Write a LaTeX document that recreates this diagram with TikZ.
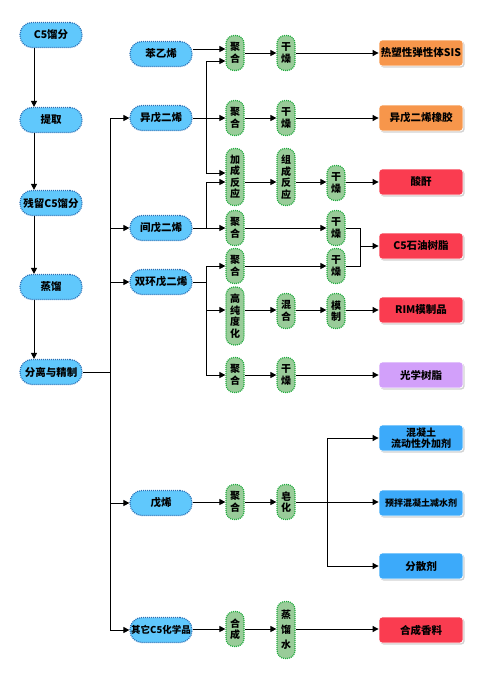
\documentclass[tikz,border=0pt]{standalone}
\usepackage{fontspec}
\setmainfont{Noto Sans CJK SC}
\usetikzlibrary{arrows.meta,shadows,calc}
\definecolor{bfill}{RGB}{96,200,252}
\definecolor{bdraw}{RGB}{40,110,180}
\definecolor{gfill}{RGB}{153,204,153}
\definecolor{gdraw}{RGB}{30,170,60}
\definecolor{oorange}{RGB}{247,150,75}
\definecolor{ored}{RGB}{250,60,80}
\definecolor{opurple}{RGB}{210,160,250}
\definecolor{oblue}{RGB}{60,170,250}
\begin{document}
\begin{tikzpicture}[x=1pt,y=-1pt,
 every node/.style={font=\fontsize{10.5}{12}\selectfont\bfseries},
 bnode/.style={draw=bdraw,dash pattern=on 1pt off 1pt,line width=1.2pt,fill=bfill,rounded corners=12pt,minimum width=62pt,minimum height=25pt,inner sep=1pt},
 gnode/.style={draw=gdraw,dash pattern=on 1pt off 1pt,line width=1.2pt,fill=gfill,rounded corners=8pt,minimum width=18pt,inner sep=0pt,align=center,font=\fontsize{10}{11.5}\selectfont\bfseries},
 gtwo/.style={gnode,minimum height=35pt},
 gfour/.style={gnode,minimum height=57pt},
 onode/.style={draw=white,line width=0.8pt,rounded corners=3pt,minimum width=84pt,minimum height=26pt,inner sep=1pt,align=center,drop shadow={shadow xshift=1.5pt,shadow yshift=-1.5pt,opacity=0.35}},
 arr/.style={-{Triangle[length=6pt,width=6pt]},line width=0.9pt},
 ln/.style={line width=0.9pt}]
\path[use as bounding box] (0,0) rectangle (483,683);
% left column
\node[bnode] (c5) at (51,35) {C5馏分};
\node[bnode] (tiqu) at (51,120) {提取};
\node[bnode] (canliu) at (51,203) {残留C5馏分};
\node[bnode] (zhengliu) at (51,287) {蒸馏};
\node[bnode] (fenli) at (51,372) {分离与精制};
% second column
\node[bnode] (benz) at (161,54) {苯乙烯};
\node[bnode] (iso) at (161,118) {异戊二烯};
\node[bnode] (pip) at (161,228) {间戊二烯};
\node[bnode] (dcpd) at (161,282) {双环戊二烯};
\node[bnode] (pent) at (161,503) {戊烯};
\node[bnode,font=\fontsize{9.5}{11}\selectfont\bfseries] (other) at (161,630) {其它C5化学品};
% green C
\node[gtwo] (p1) at (235,53) {聚\\合};
\node[gtwo] (p2) at (235,118) {聚\\合};
\node[gfour] (add) at (235,177) {加\\成\\反\\应};
\node[gtwo] (p4) at (235,228) {聚\\合};
\node[gtwo] (p5) at (235,266) {聚\\合};
\node[gfour,minimum height=58pt] (hp) at (235,316) {高\\纯\\度\\化};
\node[gtwo] (p7) at (235,375) {聚\\合};
\node[gtwo] (p8) at (235,502) {聚\\合};
\node[gtwo] (hc) at (235,629) {合\\成};
% green D
\node[gtwo] (d1) at (286,53) {干\\燥};
\node[gtwo] (d2) at (286,118) {干\\燥};
\node[gfour] (zc) at (286,177) {组\\成\\反\\应};
\node[gtwo] (mix) at (286,311) {混\\合};
\node[gtwo] (d7) at (286,375) {干\\燥};
\node[gtwo] (zh) at (286,502) {皂\\化};
\node[gnode,minimum height=57pt,font=\fontsize{10}{15}\selectfont\bfseries] (zlw) at (286,630) {蒸\\馏\\水};
% green E
\node[gtwo] (d3) at (336,183) {干\\燥};
\node[gtwo] (d4) at (336,228) {干\\燥};
\node[gtwo] (d5) at (336,266) {干\\燥};
\node[gtwo] (mz) at (336,311) {模\\制};
% outputs
\node[onode,fill=oorange] (o1) at (421,53) {热塑性弹性体SIS};
\node[onode,fill=oorange] (o2) at (421,118) {异戊二烯橡胶};
\node[onode,fill=ored] (o3) at (421,182) {酸酐};
\node[onode,fill=ored] (o4) at (421,246) {C5石油树脂};
\node[onode,fill=ored] (o5) at (421,310) {RIM模制品};
\node[onode,fill=opurple] (o6) at (421,375) {光学树脂};
\node[onode,fill=oblue,font=\fontsize{10}{11}\selectfont\bfseries] (o7) at (421,438) {混凝土\\流动性外加剂};
\node[onode,fill=oblue,font=\fontsize{9}{11}\selectfont\bfseries] (o8) at (421,503) {预拌混凝土减水剂};
\node[onode,fill=oblue] (o9) at (421,566) {分散剂};
\node[onode,fill=ored] (o10) at (421,630) {合成香料};
% coordinates
\coordinate (ax) at (34,0);
\coordinate (tr) at (110,0);
\coordinate (ja) at (206,0);
\coordinate (jb) at (360,0);
\coordinate (jc) at (327,0);
% left arrows
\draw[arr] (c5.south -| ax) -- (tiqu.north -| ax);
\draw[arr] (tiqu.south -| ax) -- (canliu.north -| ax);
\draw[arr] (canliu.south -| ax) -- (zhengliu.north -| ax);
\draw[arr] (zhengliu.south -| ax) -- (fenli.north -| ax);
% trunk
\draw[ln] (fenli.east) -- (fenli.east -| tr);
\draw[ln] (iso.west -| tr) -- (other.west -| tr);
\foreach \n in {iso,pip,dcpd,pent,other} \draw[arr] (\n.west -| tr) -- (\n.west);
% styrene / isoprene
\draw[arr] (benz.east |- 0,49) -- (p1.west |- 0,49);
\draw[arr] (iso.east) -- (p2.west);
\draw[arr] (ja |- iso.east) |- (p1.west |- 0,61);
\draw[arr] (ja |- iso.east) |- (add.west |- 0,173);
\draw[arr] (p1.east) -- (d1.west);
\draw[arr] (d1.east) -- (o1.west);
\draw[arr] (p2.east) -- (d2.west);
\draw[arr] (d2.east) -- (o2.west);
% addition row
\draw[arr] (add.east |- 0,182) -- (zc.west |- 0,182);
\draw[arr] (zc.east |- 0,182) -- (d3.west |- 0,182);
\draw[arr] (d3.east |- 0,182) -- (o3.west);
% piperylene
\draw[arr] (pip.east) -- (p4.west);
\draw[arr] (ja |- pip.east) |- (add.west |- 0,182);
\draw[arr] (p4.east) -- (d4.west);
% dcpd
\draw[ln] (dcpd.east) -- (ja |- dcpd.east);
\draw[arr] (ja |- dcpd.east) |- (p5.west);
\draw[arr] (ja |- dcpd.east) |- (hp.west |- 0,310);
\draw[arr] (ja |- dcpd.east) |- (p7.west);
\draw[arr] (p5.east) -- (d5.west);
\draw[ln] (d4.east) -| (jb |- d5.east) -- (d5.east);
\draw[arr] (jb |- o4.west) -- (o4.west);
\draw[arr] (hp.east |- 0,310) -- (mix.west |- 0,310);
\draw[arr] (mix.east |- 0,310) -- (mz.west |- 0,310);
\draw[arr] (mz.east |- 0,310) -- (o5.west);
\draw[arr] (p7.east) -- (d7.west);
\draw[arr] (d7.east) -- (o6.west);
% pentene
\draw[arr] (pent.east |- 0,502) -- (p8.west);
\draw[arr] (p8.east) -- (zh.west);
\draw[arr] (zh.east) -- (o8.west |- 0,502);
\draw[ln] (jc |- o7.west) -- (jc |- o9.west);
\draw[arr] (jc |- o7.west) -- (o7.west);
\draw[arr] (jc |- o9.west) -- (o9.west);
% other
\draw[arr] (other.east |- 0,629) -- (hc.west);
\draw[arr] (hc.east) -- (zlw.west |- 0,629);
\draw[arr] (zlw.east |- 0,629) -- (o10.west |- 0,629);
\end{tikzpicture}
\end{document}
